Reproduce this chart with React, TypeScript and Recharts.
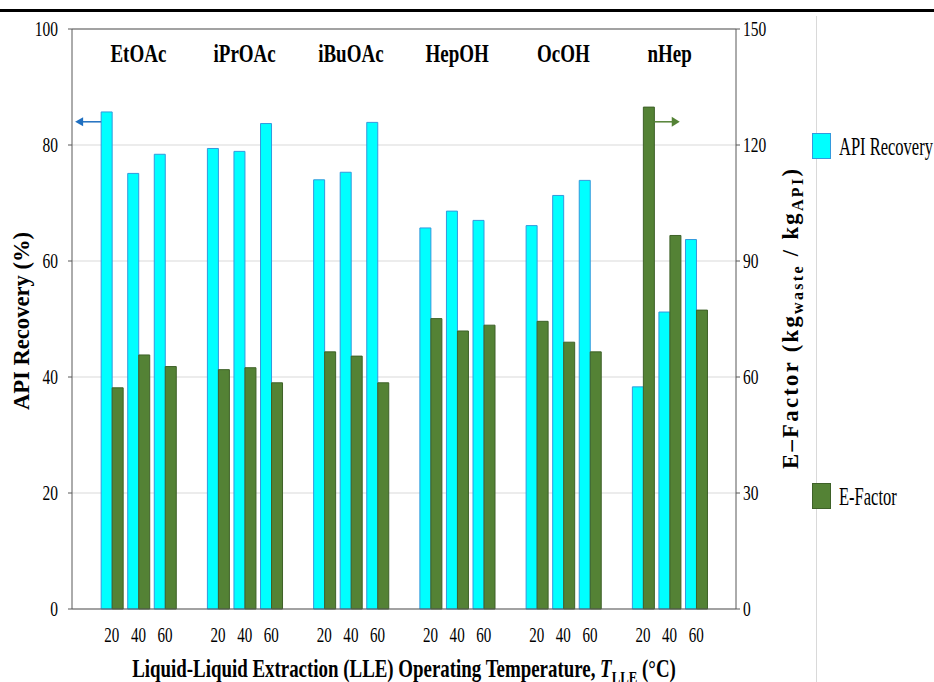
import React from "react";
import {
  ComposedChart,
  Bar,
  XAxis,
  YAxis,
  CartesianGrid,
  ReferenceLine,
  ReferenceDot,
  Label,
} from "recharts";

// values, one entry per solvent, temperatures 20 / 40 / 60 °C
const SOLVENTS = ["EtOAc", "iPrOAc", "iBuOAc", "HepOH", "OcOH", "nHep"];
const TEMPERATURES = [20, 40, 60];
const API_RECOVERY = [
  [85.7, 75.1, 78.4],
  [79.4, 78.9, 83.7],
  [74.0, 75.3, 83.9],
  [65.7, 68.6, 67.0],
  [66.1, 71.3, 73.9],
  [38.3, 51.2, 63.7],
];
const E_FACTOR = [
  [57.2, 65.7, 62.7],
  [61.9, 62.4, 58.5],
  [66.5, 65.4, 58.5],
  [75.1, 71.9, 73.4],
  [74.4, 69.0, 66.5],
  [129.8, 96.6, 77.3],
];
const LEFT_TICKS = [0, 20, 40, 60, 80, 100];
const RIGHT_TICKS = [0, 30, 60, 90, 120, 150];
const ARROW_LEVEL = 84; // on the API Recovery axis

const SERIES = [
  { key: "api", name: "API Recovery", fill: "#00FFFF", stroke: "#3399DD" },
  { key: "ef", name: "E-Factor", fill: "#548235", stroke: "#3E6128" },
];

type Row = {
  key: string;
  temp: string;
  group: string;
  api: number | null;
  ef: number | null;
};

const emptyRow = (key: string): Row => ({ key, temp: "", group: "", api: null, ef: null });

// one blank slot at each end and between solvent groups
const rows: Row[] = [emptyRow("pad-start")];
SOLVENTS.forEach((s, i) => {
  TEMPERATURES.forEach((t, j) => {
    rows.push({
      key: `${s}-${t}`,
      temp: String(t),
      group: j === 1 ? s : "",
      api: API_RECOVERY[i][j],
      ef: E_FACTOR[i][j],
    });
  });
  if (i < SOLVENTS.length - 1) rows.push(emptyRow(`gap-${i}`));
});
rows.push(emptyRow("pad-end"));

const FONT = '"Liberation Serif", Tinos, "Times New Roman", Times, "DejaVu Serif", serif';
const AXIS_COLOR = "#595959";
const HALF_PAIR = 10.7;

const rowFor = (key: string) => rows.find((r) => r.key === key);

const TempTick = (props: any) => {
  const { x, y, payload } = props;
  const row = rowFor(payload.value);
  if (!row || !row.temp) return <g />;
  return (
    <text
      transform={`translate(${x},${y + 33}) scale(0.7,1)`}
      textAnchor="middle"
      fontSize={21.5}
      style={{ fontFamily: FONT }}
      fill="#000"
    >
      {row.temp}
    </text>
  );
};

const GroupTick = (props: any) => {
  const { x, y, payload } = props;
  const row = rowFor(payload.value);
  if (!row || !row.group) return <g />;
  return (
    <text
      transform={`translate(${x},${y + 33}) scale(0.76,1)`}
      textAnchor="middle"
      fontSize={25}
      fontWeight="bold"
      style={{ fontFamily: FONT }}
      fill="#000"
    >
      {row.group}
    </text>
  );
};

const ValueTick = (props: any) => {
  const { x, y, payload, textAnchor } = props;
  return (
    <text
      transform={`translate(${x},${y}) scale(0.72,1)`}
      dy="0.34em"
      textAnchor={textAnchor}
      fontSize={21.5}
      style={{ fontFamily: FONT }}
      fill="#000"
    >
      {payload.value}
    </text>
  );
};

const XTitle = (props: any) => {
  const vb = props.viewBox;
  return (
    <text
      transform={`translate(${vb.x + vb.width / 2},${vb.y + 68}) scale(0.756,1)`}
      textAnchor="middle"
      fontSize={25}
      fontWeight="bold"
      style={{ fontFamily: FONT }}
      fill="#000"
    >
      Liquid-Liquid Extraction (LLE) Operating Temperature,{" "}
      <tspan fontStyle="italic">T</tspan>
      <tspan fontSize={17} dy={6}>LLE</tspan>
      <tspan dy={-6}> (°C)</tspan>
    </text>
  );
};

const LeftTitle = (props: any) => {
  const vb = props.viewBox;
  return (
    <text
      transform={`translate(${vb.x + 16.5},${vb.y + vb.height / 2 + 2}) rotate(-90)`}
      textAnchor="middle"
      fontSize={22.7}
      fontWeight="bold"
      style={{ fontFamily: FONT }}
      fill="#000"
      textLength={178}
      lengthAdjust="spacingAndGlyphs"
    >
      API Recovery (%)
    </text>
  );
};

const RightTitle = (props: any) => {
  const vb = props.viewBox;
  return (
    <text
      transform={`translate(${vb.x + 62},${vb.y + vb.height / 2}) rotate(-90)`}
      textAnchor="middle"
      fontSize={22.7}
      fontWeight="bold"
      style={{ fontFamily: FONT }}
      fill="#000"
      textLength={300}
      lengthAdjust="spacing"
    >
      E–Factor (kg
      <tspan fontSize={16} dy={5}>waste</tspan>
      <tspan dy={-5}> / kg</tspan>
      <tspan fontSize={16} dy={5}>API</tspan>
      <tspan dy={-5}>)</tspan>
    </text>
  );
};

// arrow pointing from the first EtOAc bar to the left axis
const LeftArrow = (props: any) => {
  const { cx, cy } = props;
  const tail = cx - HALF_PAIR;
  const tip = tail - 26;
  return (
    <g>
      <line x1={tail} y1={cy} x2={tip + 7} y2={cy} stroke="#1F6FC0" strokeWidth={1.5} />
      <polygon points={`${tip},${cy} ${tip + 8},${cy - 4.5} ${tip + 8},${cy + 4.5}`} fill="#1F6FC0" />
    </g>
  );
};

// arrow pointing from the first nHep E-Factor bar to the right axis
const RightArrow = (props: any) => {
  const { cx, cy } = props;
  const tail = cx + HALF_PAIR;
  const tip = tail + 26;
  return (
    <g>
      <line x1={tail} y1={cy} x2={tip - 7} y2={cy} stroke="#548235" strokeWidth={1.5} />
      <polygon points={`${tip},${cy} ${tip - 8},${cy - 5} ${tip - 8},${cy + 5}`} fill="#548235" />
    </g>
  );
};

const LEGEND_ROWS = [
  { series: SERIES[0], top: 133 },
  { series: SERIES[1], top: 483 },
];

export default function App() {
  return (
    <div
      style={{
        position: "absolute",
        left: 0,
        top: 0,
        width: 934,
        height: 682,
        overflow: "hidden",
        background: "#fff",
      }}
    >
      <div style={{ position: "absolute", left: 0, top: 8.5, width: 934, height: 3, background: "#000" }} />
      <div style={{ position: "absolute", left: 816, top: 16, width: 1, height: 666, background: "#d9d9d9" }} />

      <ComposedChart
        width={934}
        height={682}
        data={rows}
        margin={{ top: 28, right: 128, bottom: 0, left: 12 }}
        barCategoryGap={2.6}
        barGap={0}
      >
        <CartesianGrid yAxisId="left" vertical={false} stroke="#d9d9d9" />
        <XAxis
          dataKey="key"
          interval={0}
          height={73}
          axisLine={{ stroke: AXIS_COLOR }}
          tickLine={false}
          tickSize={0}
          tickMargin={0}
          tick={TempTick}
        >
          <Label content={XTitle} />
        </XAxis>
        <XAxis
          xAxisId="top"
          dataKey="key"
          orientation="top"
          interval={0}
          height={1}
          axisLine={false}
          tickLine={false}
          tickSize={0}
          tickMargin={0}
          tick={GroupTick}
        />
        <YAxis
          yAxisId="left"
          domain={[0, 100]}
          ticks={LEFT_TICKS}
          width={60}
          axisLine={{ stroke: AXIS_COLOR }}
          tickLine={{ stroke: AXIS_COLOR }}
          tickSize={4}
          tickMargin={10}
          tick={ValueTick}
        >
          <Label content={LeftTitle} />
        </YAxis>
        <YAxis
          yAxisId="right"
          orientation="right"
          domain={[0, 150]}
          ticks={RIGHT_TICKS}
          width={70}
          axisLine={{ stroke: AXIS_COLOR }}
          tickLine={{ stroke: AXIS_COLOR }}
          tickSize={4}
          tickMargin={3}
          tick={ValueTick}
        >
          <Label content={RightTitle} />
        </YAxis>
        <ReferenceLine yAxisId="left" y={100} stroke={AXIS_COLOR} />
        <Bar
          dataKey={SERIES[0].key}
          name={SERIES[0].name}
          yAxisId="left"
          fill={SERIES[0].fill}
          stroke={SERIES[0].stroke}
          strokeWidth={1}
          isAnimationActive={false}
        />
        <Bar
          dataKey={SERIES[1].key}
          name={SERIES[1].name}
          yAxisId="right"
          fill={SERIES[1].fill}
          stroke={SERIES[1].stroke}
          strokeWidth={1}
          isAnimationActive={false}
        />
        <ReferenceDot
          yAxisId="left"
          x={`${SOLVENTS[0]}-${TEMPERATURES[0]}`}
          y={ARROW_LEVEL}
          ifOverflow="visible"
          shape={LeftArrow}
        />
        <ReferenceDot
          yAxisId="left"
          x={`${SOLVENTS[5]}-${TEMPERATURES[0]}`}
          y={ARROW_LEVEL}
          ifOverflow="visible"
          shape={RightArrow}
        />
      </ComposedChart>

      {LEGEND_ROWS.map(({ series, top }) => (
        <React.Fragment key={series.key}>
          <div
            style={{
              position: "absolute",
              left: 812,
              top,
              width: 19,
              height: 26,
              boxSizing: "border-box",
              background: series.fill,
              border: `1px solid ${series.stroke}`,
            }}
          />
          <div
            style={{
              position: "absolute",
              left: 839,
              top: top + 1,
              fontFamily: FONT,
              fontSize: 25,
              lineHeight: "25px",
              whiteSpace: "nowrap",
              color: "#000",
              transform: "scaleX(0.66)",
              transformOrigin: "left",
            }}
          >
            {series.name}
          </div>
        </React.Fragment>
      ))}
    </div>
  );
}
